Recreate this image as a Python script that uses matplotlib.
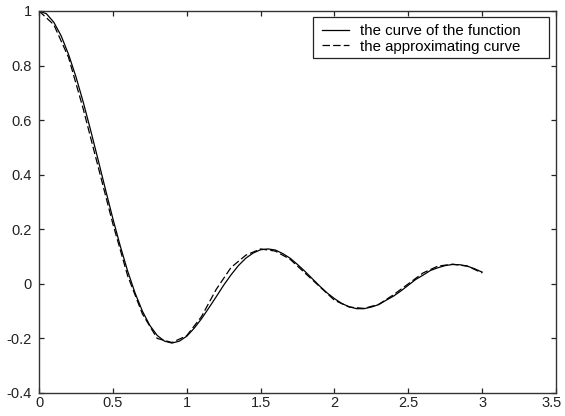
import numpy as np
import matplotlib.pyplot as plt
import matplotlib.transforms as mtransforms
from matplotlib.patches import Rectangle

# values
x_func = [0.00, 0.05, 0.10, 0.15, 0.20, 0.25, 0.30, 0.35, 0.40, 0.45,
          0.50, 0.55, 0.60, 0.65, 0.70, 0.75, 0.80, 0.85, 0.90, 0.95,
          1.00, 1.05, 1.10, 1.15, 1.20, 1.25, 1.30, 1.35, 1.40, 1.45,
          1.50, 1.55, 1.60, 1.65, 1.70, 1.75, 1.80, 1.85, 1.90, 1.95,
          2.00, 2.05, 2.10, 2.15, 2.20, 2.25, 2.30, 2.35, 2.40, 2.45,
          2.50, 2.55, 2.60, 2.65, 2.70, 2.75, 2.80, 2.85, 2.90, 2.95, 3.00]
y_func = [1.000, 0.990, 0.959, 0.909, 0.841, 0.759, 0.665, 0.562, 0.455, 0.346,
          0.239, 0.139, 0.047, -0.033, -0.100, -0.152, -0.189, -0.210, -0.217, -0.210,
          -0.192, -0.163, -0.128, -0.088, -0.047, -0.005, 0.033, 0.067, 0.094, 0.113,
          0.125, 0.128, 0.124, 0.111, 0.094, 0.071, 0.046, 0.019, -0.008, -0.033,
          -0.054, -0.072, -0.084, -0.091, -0.091, -0.085, -0.076, -0.060, -0.045, -0.026,
          -0.005, 0.016, 0.032, 0.049, 0.059, 0.067, 0.071, 0.070, 0.065, 0.055, 0.043]

x_approx = [0.0, 0.1, 0.2, 0.3, 0.4, 0.5, 0.6, 0.7, 0.8, 0.9, 1.0,
            1.1, 1.2, 1.3, 1.4, 1.5, 1.6, 1.7, 1.8, 1.9, 2.0,
            2.1, 2.2, 2.3, 2.4, 2.5, 2.6, 2.7, 2.8, 2.9, 3.0]
y_approx = [1.0, 0.95, 0.83, 0.64, 0.43, 0.22, 0.03, -0.11, -0.20, -0.215, -0.19,
            -0.12, -0.02, 0.06, 0.105, 0.128, 0.12, 0.09, 0.04, -0.01, -0.06,
            -0.085, -0.09, -0.075, -0.04, 0.00, 0.04, 0.065, 0.072, 0.065, 0.04]

xticks = [0, 0.5, 1, 1.5, 2, 2.5, 3, 3.5]
xticklabels = ['0', '0.5', '1', '1.5', '2', '2.5', '3', '3.5']
yticks = [-0.4, -0.2, 0, 0.2, 0.4, 0.6, 0.8, 1]
yticklabels = ['-0.4', '-0.2', '0', '0.2', '0.4', '0.6', '0.8', '1']

plt.rcParams['font.family'] = ['Liberation Sans', 'DejaVu Sans']

W, H = 565, 416
fig = plt.figure(figsize=(W/100, H/100), dpi=100)
ax = fig.add_axes([39/W, 1-393/H, (556-39)/W, (393-11)/H])

ax.plot(x_func, y_func, color='black', lw=0.9, label='the curve of the function')
ax.plot(x_approx, y_approx, color='black', lw=0.9, dashes=(6, 2.5),
        label='the approximating curve')

ax.set_xlim(0, 3.5)
ax.set_ylim(-0.4, 1)
ax.set_xticks(xticks)
ax.set_xticklabels(xticklabels)
ax.set_yticks(yticks)
ax.set_yticklabels(yticklabels)
ax.tick_params(direction='in', length=3.5, width=0.9, top=True, right=True,
               labelsize=10.5, colors='#222222')
ax.tick_params(axis='x', pad=2)
ax.tick_params(axis='y', pad=5)
for s in ax.spines.values():
    s.set_linewidth(1.0)
    s.set_color('#333333')

# keep the last x label inside the figure
last = ax.get_xticklabels()[-1]
last.set_transform(last.get_transform() +
                   mtransforms.ScaledTranslation(-4/100, 0, fig.dpi_scale_trans))

# legend entries without frame, box drawn separately (MATLAB-like wide box)
leg = ax.legend(loc='upper left', bbox_to_anchor=(322/W, 1-24/H),
                bbox_transform=fig.transFigure, fontsize=10.8, frameon=False,
                handlelength=1.8, handletextpad=0.7, borderpad=0,
                labelspacing=0.1, borderaxespad=0)
ax.add_patch(Rectangle((313/W, 1-58/H), (549-313)/W, (58-17)/H,
                       transform=fig.transFigure, clip_on=False, facecolor='white',
                       edgecolor='#222222', lw=0.9, zorder=4.5))

fig.savefig('out.png', dpi=100)
